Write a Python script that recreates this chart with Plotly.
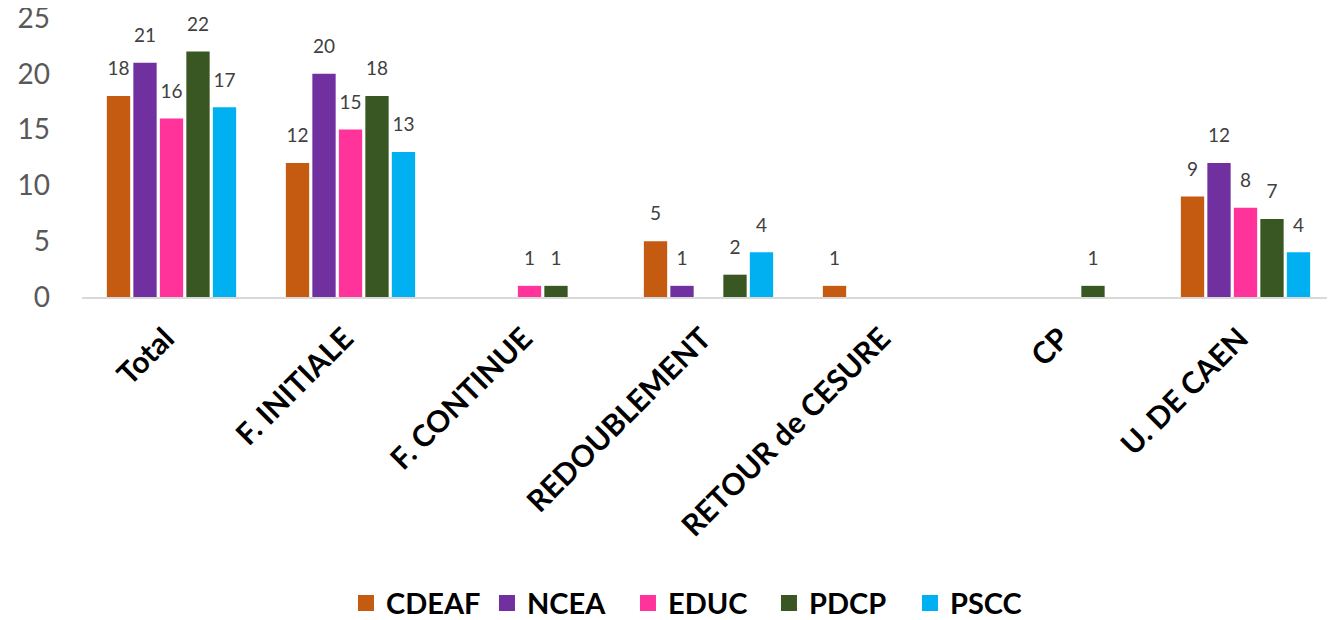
import plotly.graph_objects as go

categories = ["Total", "F. INITIALE", "F. CONTINUE", "REDOUBLEMENT", "RETOUR de CESURE", "CP", "U. DE CAEN"]
series_names = ["CDEAF", "NCEA", "EDUC", "PDCP", "PSCC"]
cdeaf = [18, 12, 0, 5, 1, 0, 9]
ncea = [21, 20, 0, 1, 0, 0, 12]
educ = [16, 15, 1, 0, 0, 0, 8]
pdcp = [22, 18, 1, 2, 0, 1, 7]
pscc = [17, 13, 0, 4, 0, 0, 4]
colors = ["#C55A11", "#7030A0", "#FF3399", "#385723", "#00B0F0"]

fig = go.Figure()
all_vals = [cdeaf, ncea, educ, pdcp, pscc]
for i, (name, vals, col) in enumerate(zip(series_names, all_vals, colors)):
    fig.add_trace(go.Bar(
        name=name, x=categories, y=vals, offsetgroup=str(i), legendgroup=name,
        marker=dict(color=col, line=dict(width=0)), showlegend=False,
        hoverinfo="x+y+name",
    ))
for i, (name, vals, col) in enumerate(zip(series_names, all_vals, colors)):
    fig.add_trace(go.Scatter(
        x=categories, y=[v if v else None for v in vals], offsetgroup=str(i),
        mode="markers+text", text=[str(v) if v else "" for v in vals],
        textposition="top center", cliponaxis=False, legendgroup=name,
        marker=dict(size=24, opacity=0),
        textfont=dict(size=19, color="#404040", family="Lato"),
        showlegend=False, hoverinfo="skip",
    ))
# legend entries (square swatches)
for i, (name, col) in enumerate(zip(series_names, colors)):
    fig.add_trace(go.Scatter(
        x=[None], y=[None], name=name, mode="markers", offsetgroup=str(i),
        legendgroup=name, marker=dict(symbol="square", size=16, color=col),
        showlegend=True,
    ))

fig.update_layout(
    width=1335, height=620,
    margin=dict(l=74, r=8, t=10, b=331, autoexpand=False),
    paper_bgcolor="white", plot_bgcolor="white",
    barmode="group", bargap=0.26, bargroupgap=0.12,
    scattermode="group", scattergap=0.26,
    font=dict(family="Lato"),
    showlegend=True,
    legend=dict(orientation="h", x=0.492, xanchor="center", yref="container", y=0.04, yanchor="middle",
                font=dict(size=29, color="#000000", family="Lato", weight="bold"),
                itemwidth=30, tracegroupgap=0, entrywidth=96, entrywidthmode="pixels",
                itemsizing="trace"),
)
fig.update_xaxes(
    showline=True, linecolor="#D9D9D9", linewidth=2, showgrid=False,
    tickangle=-45, tickfont=dict(size=30, color="#000000", family="Lato", weight="bold"),
    ticks="", automargin=False, ticklabelstandoff=10, ticklabelshift=-6,
)
fig.update_yaxes(
    range=[0, 25], dtick=5, showgrid=False, zeroline=False, showline=False,
    tickfont=dict(size=28, color="#595959", family="Lato"), ticks="", ticklabelstandoff=31,
    ticklabeloverflow="allow", automargin=False,
)
fig.write_html("out.html")
